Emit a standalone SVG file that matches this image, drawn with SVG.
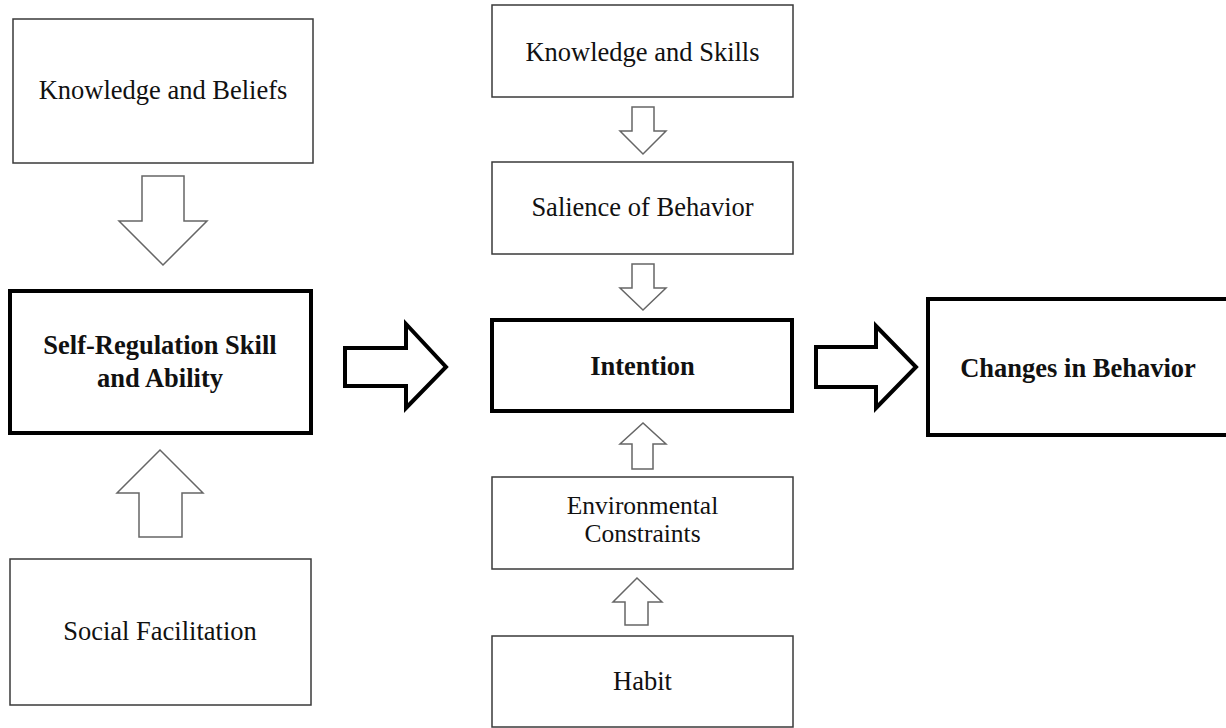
<svg xmlns="http://www.w3.org/2000/svg" width="1226" height="728" viewBox="0 0 1226 728">
<style>
.thin{fill:#fff;stroke:#3a3a3a;stroke-width:1.5}
.thick{fill:#fff;stroke:#000;stroke-width:4}
.arr{fill:#fff;stroke:#666;stroke-width:1.5;stroke-linejoin:miter}
.barr{fill:#fff;stroke:#000;stroke-width:4;stroke-linejoin:miter}
text{font-family:"Liberation Serif","Times New Roman",serif;font-size:26.5px;fill:#111;text-anchor:middle}
.b{font-weight:bold}
.s{font-size:25.5px}
</style>
<rect width="1226" height="728" fill="#fff"/>
<g id="connectors">
<polygon class="arr" points="142,176 184,176 184,221 207,221 163,265 119,221 142,221"/>
<polygon class="arr" points="139,537 182,537 182,493 203,493 160,450 117,493 139,493"/>
<polygon class="barr" points="345,348 406,348 406,324 446,367 406,408 406,386 345,386"/>
<polygon class="barr" points="816,347 876,347 876,326 916,367 876,408 876,387 816,387"/>
<polygon class="arr" points="632,107 654,107 654,131 666,131 643,154 620,131 632,131"/>
<polygon class="arr" points="632,264 654,264 654,288 666,288 643,310 620,288 632,288"/>
<polygon class="arr" points="632,469 653,469 653,444 666,444 643,423 620,444 632,444"/>
<polygon class="arr" points="625,625 648,625 648,602 662,602 637,578 613,602 625,602"/>
</g>
<g id="knowledge-beliefs">
<rect class="thin" x="13" y="19" width="300" height="144"/>
<text x="163" y="99">Knowledge and Beliefs</text>
</g>
<g id="self-regulation">
<rect class="thick" x="10" y="291" width="301" height="142"/>
<text class="b" x="160" y="354">Self-Regulation Skill</text>
<text class="b" x="160" y="387">and Ability</text>
</g>
<g id="social-facilitation">
<rect class="thin" x="10" y="559" width="301" height="146"/>
<text x="160" y="640">Social Facilitation</text>
</g>
<g id="knowledge-skills">
<rect class="thin" x="492" y="5" width="301" height="92"/>
<text x="642.5" y="61">Knowledge and Skills</text>
</g>
<g id="salience">
<rect class="thin" x="492" y="162" width="301" height="92"/>
<text x="642.5" y="216">Salience of Behavior</text>
</g>
<g id="intention">
<rect class="thick" x="492" y="320" width="300" height="91"/>
<text class="b" x="642.5" y="375">Intention</text>
</g>
<g id="environmental">
<rect class="thin" x="492" y="477" width="301" height="92"/>
<text class="s" x="642.5" y="514">Environmental</text>
<text class="s" x="642.5" y="542">Constraints</text>
</g>
<g id="habit">
<rect class="thin" x="492" y="636" width="301" height="91"/>
<text x="642.5" y="690">Habit</text>
</g>
<g id="changes">
<rect class="thick" x="928" y="299" width="302" height="136"/>
<text class="b" x="1078" y="377">Changes in Behavior</text>
</g>
</svg>
